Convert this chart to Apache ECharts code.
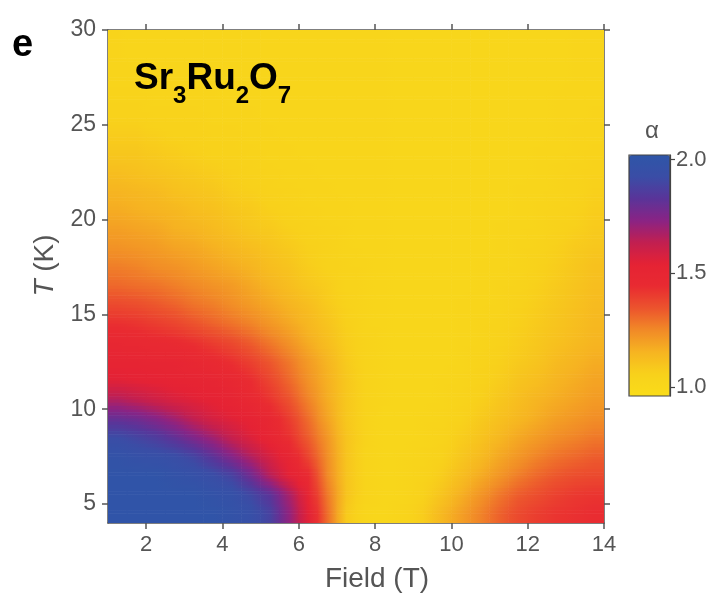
<!DOCTYPE html>
<html><head><meta charset="utf-8">
<script src="https://cdn.jsdelivr.net/npm/echarts@6/dist/echarts.min.js"></script>
<style>html,body{margin:0;padding:0;background:#fff}#c{width:721px;height:593px}</style>
</head><body><div id="c"></div>
<script>
// Cell centres (Field in T, temperature in K)
const fieldCenters = [1.25,1.75,2.25,2.75,3.25,3.75,4.25,4.75,5.25,5.75,6.25,6.75,7.25,7.75,8.25,8.75,9.25,9.75,10.25,10.75,11.25,11.75,12.25,12.75,13.25,13.75];
const tempCenters = [4.5,5.5,6.5,7.5,8.5,9.5,10.5,11.5,12.5,13.5,14.5,15.5,16.5,17.5,18.5,19.5,20.5,21.5,22.5,23.5,24.5,25.5,26.5,27.5,28.5,29.5];
// alpha values, one row per temperature (bottom to top)
const alphaRows = [
 [2.0,2.0,2.0,2.0,2.0,2.0,1.98,1.95,1.88,1.72,1.55,1.3,1.08,1.02,1.01,1.03,1.07,1.14,1.2,1.26,1.32,1.37,1.4,1.42,1.43,1.44],
 [2.0,2.0,2.0,2.0,2.0,1.98,1.96,1.9,1.82,1.68,1.5,1.28,1.1,1.03,1.01,1.02,1.05,1.1,1.16,1.22,1.28,1.33,1.36,1.39,1.41,1.42],
 [2.0,2.0,2.0,1.98,1.96,1.93,1.88,1.78,1.65,1.54,1.45,1.25,1.1,1.03,1.01,1.02,1.04,1.07,1.12,1.17,1.22,1.27,1.31,1.34,1.36,1.37],
 [1.98,1.96,1.95,1.93,1.89,1.82,1.74,1.66,1.58,1.5,1.38,1.24,1.1,1.03,1.01,1.02,1.03,1.05,1.09,1.13,1.18,1.22,1.26,1.29,1.31,1.33],
 [1.92,1.89,1.86,1.81,1.75,1.69,1.62,1.56,1.5,1.43,1.33,1.22,1.1,1.04,1.01,1.01,1.02,1.04,1.07,1.1,1.14,1.18,1.21,1.24,1.26,1.28],
 [1.8,1.78,1.74,1.69,1.63,1.58,1.55,1.52,1.48,1.4,1.3,1.19,1.09,1.04,1.01,1.01,1.02,1.03,1.05,1.08,1.11,1.14,1.17,1.2,1.22,1.24],
 [1.66,1.63,1.6,1.57,1.55,1.53,1.51,1.47,1.42,1.35,1.26,1.17,1.09,1.04,1.02,1.01,1.01,1.02,1.04,1.06,1.09,1.12,1.15,1.17,1.19,1.21],
 [1.55,1.54,1.53,1.52,1.51,1.5,1.48,1.44,1.38,1.31,1.23,1.16,1.09,1.04,1.02,1.01,1.01,1.02,1.03,1.05,1.07,1.1,1.12,1.15,1.17,1.19],
 [1.51,1.51,1.5,1.5,1.48,1.46,1.43,1.39,1.34,1.28,1.21,1.15,1.08,1.04,1.02,1.01,1.01,1.01,1.02,1.04,1.06,1.08,1.1,1.13,1.15,1.17],
 [1.48,1.47,1.46,1.45,1.43,1.4,1.37,1.33,1.28,1.23,1.17,1.12,1.07,1.04,1.02,1.01,1.01,1.01,1.02,1.03,1.05,1.07,1.09,1.11,1.13,1.15],
 [1.43,1.42,1.4,1.38,1.35,1.32,1.29,1.26,1.22,1.18,1.14,1.1,1.06,1.03,1.02,1.01,1.01,1.01,1.02,1.03,1.04,1.06,1.08,1.1,1.12,1.14],
 [1.37,1.36,1.34,1.32,1.29,1.27,1.24,1.21,1.18,1.15,1.12,1.08,1.05,1.03,1.02,1.01,1.01,1.01,1.02,1.02,1.03,1.05,1.07,1.09,1.11,1.13],
 [1.31,1.3,1.29,1.27,1.25,1.23,1.21,1.18,1.15,1.12,1.09,1.07,1.04,1.03,1.02,1.01,1.01,1.01,1.01,1.02,1.03,1.04,1.06,1.08,1.1,1.12],
 [1.27,1.26,1.24,1.23,1.21,1.19,1.17,1.15,1.12,1.1,1.07,1.05,1.04,1.03,1.02,1.01,1.01,1.01,1.01,1.02,1.02,1.03,1.05,1.07,1.09,1.11],
 [1.23,1.22,1.21,1.19,1.18,1.16,1.14,1.12,1.1,1.08,1.06,1.05,1.03,1.02,1.02,1.01,1.01,1.01,1.01,1.01,1.02,1.03,1.04,1.06,1.08,1.09],
 [1.2,1.19,1.18,1.16,1.15,1.13,1.11,1.09,1.08,1.06,1.05,1.04,1.03,1.02,1.02,1.01,1.01,1.01,1.01,1.01,1.02,1.02,1.03,1.05,1.06,1.08],
 [1.17,1.16,1.15,1.14,1.12,1.11,1.09,1.08,1.06,1.05,1.04,1.03,1.03,1.02,1.02,1.01,1.01,1.01,1.01,1.01,1.01,1.02,1.03,1.04,1.05,1.07],
 [1.15,1.14,1.13,1.11,1.1,1.09,1.07,1.06,1.05,1.04,1.03,1.03,1.02,1.02,1.02,1.01,1.01,1.01,1.01,1.01,1.01,1.02,1.02,1.03,1.04,1.06],
 [1.12,1.11,1.1,1.09,1.08,1.07,1.06,1.05,1.04,1.03,1.03,1.02,1.02,1.02,1.02,1.01,1.01,1.01,1.01,1.01,1.01,1.01,1.02,1.03,1.04,1.05],
 [1.09,1.09,1.08,1.07,1.06,1.05,1.05,1.04,1.03,1.03,1.02,1.02,1.02,1.02,1.02,1.01,1.01,1.01,1.01,1.01,1.01,1.01,1.02,1.02,1.03,1.04],
 [1.07,1.07,1.06,1.05,1.05,1.04,1.04,1.03,1.03,1.02,1.02,1.02,1.02,1.02,1.02,1.01,1.01,1.01,1.01,1.01,1.01,1.01,1.01,1.02,1.03,1.03],
 [1.05,1.05,1.04,1.04,1.04,1.03,1.03,1.03,1.02,1.02,1.02,1.02,1.02,1.02,1.02,1.01,1.01,1.01,1.01,1.01,1.01,1.01,1.01,1.02,1.02,1.03],
 [1.04,1.04,1.03,1.03,1.03,1.03,1.02,1.02,1.02,1.02,1.02,1.02,1.02,1.02,1.02,1.01,1.01,1.01,1.01,1.01,1.01,1.01,1.01,1.02,1.02,1.02],
 [1.03,1.03,1.03,1.02,1.02,1.02,1.02,1.02,1.02,1.02,1.02,1.02,1.02,1.02,1.02,1.01,1.01,1.01,1.01,1.01,1.01,1.01,1.01,1.01,1.02,1.02],
 [1.03,1.02,1.02,1.02,1.02,1.02,1.02,1.02,1.02,1.02,1.02,1.02,1.02,1.02,1.02,1.01,1.01,1.01,1.01,1.01,1.01,1.01,1.01,1.01,1.02,1.02],
 [1.03,1.02,1.02,1.02,1.02,1.02,1.02,1.02,1.02,1.02,1.02,1.02,1.02,1.02,1.02,1.01,1.01,1.01,1.01,1.01,1.01,1.01,1.01,1.01,1.02,1.02]
];
const fieldTicks = [2,4,6,8,10,12,14];
const tempTicks = [5,10,15,20,25,30];
const alphaTicks = [1.0,1.5,2.0];
const alphaColors = ['#f9dc1a','#f8d11b','#f6b421','#f18a27','#ec542d','#e92b31','#e52234','#c21f50','#8a2384','#5a3499','#3a4da6','#2e56a8'];

// colour-bar extent (the colour bar runs slightly past 1.0 and 2.0)
const CB_MIN = 0.96, CB_MAX = 2.02;
const nC = fieldCenters.length, nR = tempCenters.length;
const halfW = (fieldCenters[1] - fieldCenters[0]) / 2;
const halfH = (tempCenters[1] - tempCenters[0]) / 2;

const data = [];
tempCenters.forEach((t, i) => fieldCenters.forEach((f, j) => data.push([f, t, alphaRows[i][j]])));

// smooth shading between the read grid values (rendering only)
function shadeAt(F, T) {
  let u = (F - fieldCenters[0]) / (2 * halfW);
  let v = (T - tempCenters[0]) / (2 * halfH);
  u = Math.max(0, Math.min(nC - 1, u));
  v = Math.max(0, Math.min(nR - 1, v));
  const j0 = Math.min(Math.floor(u), nC - 2), i0 = Math.min(Math.floor(v), nR - 2);
  const fu = u - j0, fv = v - i0;
  const a = alphaRows[i0][j0], b = alphaRows[i0][j0 + 1], c = alphaRows[i0 + 1][j0], d = alphaRows[i0 + 1][j0 + 1];
  return (a * (1 - fu) + b * fu) * (1 - fv) + (c * (1 - fu) + d * fu) * fv;
}
function colorOf(a) {
  const n = Math.max(0, Math.min(1, (a - CB_MIN) / (CB_MAX - CB_MIN)));
  return echarts.color.lerp(n, alphaColors);
}

const FONT = "'Liberation Sans', Arial, sans-serif";
const AX = '#555';
const lab = {fontFamily: FONT, fontSize: 22, color: AX};
const line = {show: true, onZero: false, lineStyle: {color: AX, width: 1.5}};
const STRIPS = 6;

const chart = echarts.init(document.getElementById('c'), null, {renderer: 'canvas'});
chart.setOption({
  animation: false,
  backgroundColor: '#fff',
  grid: [
    {left: 108, top: 30, width: 496, height: 493, show: false, outerBoundsMode: 'none', containLabel: false},
    {left: 629, top: 155, width: 41, height: 241, show: true, borderColor: '#444', borderWidth: 1.2,
     backgroundColor: 'transparent', z: 10, outerBoundsMode: 'none', containLabel: false}
  ],
  xAxis: [
    {gridIndex: 0, type: 'value', min: 1, max: 14, position: 'bottom',
     axisLine: line, splitLine: {show: false},
     axisTick: {show: true, inside: false, customValues: fieldTicks, length: 6, lineStyle: {color: AX, width: 1.5}},
     axisLabel: Object.assign({customValues: fieldTicks, margin: 11}, lab),
     name: 'Field (T)', nameLocation: 'middle', nameGap: 42,
     nameTextStyle: {fontFamily: FONT, fontSize: 28, color: AX, padding: [0, 0, 0, 42]}},
    {gridIndex: 0, type: 'value', min: 1, max: 14, position: 'top',
     axisLine: line, splitLine: {show: false},
     axisTick: {show: true, inside: false, customValues: fieldTicks, length: 6, lineStyle: {color: AX, width: 1.5}},
     axisLabel: {show: false}},
    {gridIndex: 1, type: 'value', min: 1, max: 2, show: false, axisLine: {show: false, onZero: false}}
  ],
  yAxis: [
    {gridIndex: 0, type: 'value', min: 4, max: 30, position: 'left',
     axisLine: line, splitLine: {show: false},
     axisTick: {show: true, inside: false, customValues: tempTicks, length: 6, lineStyle: {color: AX, width: 1.5}},
     axisLabel: Object.assign({customValues: tempTicks, margin: 12}, lab, {fontSize: 23}),
     name: '{i|T} (K)', nameLocation: 'middle', nameGap: 48, nameRotate: 90,
     nameTextStyle: {fontFamily: FONT, fontSize: 28, color: AX, padding: [0, 0, 0, 22],
       rich: {i: {fontFamily: FONT, fontSize: 28, color: AX, fontStyle: 'italic'}}}},
    {gridIndex: 0, type: 'value', min: 4, max: 30, position: 'right',
     axisLine: line, splitLine: {show: false},
     axisTick: {show: true, inside: false, customValues: tempTicks, length: 6, lineStyle: {color: AX, width: 1.5}},
     axisLabel: {show: false}},
    {gridIndex: 1, type: 'value', min: CB_MIN, max: CB_MAX, position: 'right', z: 10,
     axisLine: {show: true, onZero: false, lineStyle: {color: '#444', width: 1.2}}, splitLine: {show: false},
     axisTick: {show: true, inside: false, customValues: alphaTicks, length: 5, lineStyle: {color: '#444', width: 1.2}},
     axisLabel: Object.assign({customValues: alphaTicks, margin: 6, formatter: v => v.toFixed(1)}, lab)}
  ],
  visualMap: {
    type: 'continuous', min: CB_MIN, max: CB_MAX, seriesIndex: 0, dimension: 2,
    orient: 'vertical', left: 629, top: 155, itemWidth: 41, itemHeight: 241,
    calculable: false, padding: 0, text: null, showLabel: false, realtime: false,
    inRange: {color: alphaColors}
  },
  series: [{
    type: 'custom', xAxisIndex: 0, yAxisIndex: 0, clip: true,
    encode: {x: 0, y: 1},
    data: data,
    renderItem: function (params, api) {
      const f = api.value(0), t = api.value(1);
      const xL = f - halfW, xR = f + halfW;
      const step = 2 * halfH / STRIPS;
      const children = [];
      for (let s = 0; s < STRIPS; s++) {
        const tTop = t + halfH - s * step, tBot = tTop - step, tMid = (tTop + tBot) / 2;
        const p0 = api.coord([xL, tTop]), p1 = api.coord([xR, tBot]);
        children.push({
          type: 'rect',
          shape: {x: p0[0] - 0.3, y: p0[1] - 0.3, width: p1[0] - p0[0] + 0.6, height: p1[1] - p0[1] + 0.6},
          style: {fill: new echarts.graphic.LinearGradient(0, 0, 1, 0, [
            {offset: 0, color: colorOf(shadeAt(xL, tMid))},
            {offset: 0.5, color: colorOf(shadeAt(f, tMid))},
            {offset: 1, color: colorOf(shadeAt(xR, tMid))}
          ])}
        });
      }
      return {type: 'group', children: children};
    }
  }],
  graphic: [
    {type: 'text', left: 12, top: 27, z: 100, style: {text: 'e', font: "bold 38px " + FONT, fill: '#000'}},
    {type: 'text', left: 134, top: 60, z: 100, style: {
      text: '{b|Sr}{s|3}{b|Ru}{s|2}{b|O}{s|7}',
      rich: {
        b: {fontFamily: FONT, fontWeight: 'bold', fontSize: 37, fill: '#000', verticalAlign: 'bottom', padding: [0, 0, 11, 0]},
        s: {fontFamily: FONT, fontWeight: 'bold', fontSize: 24, fill: '#000', verticalAlign: 'bottom'}
      }}},
    {type: 'text', x: 652, y: 131, z: 100, style: {text: 'α', font: "24px " + FONT, fill: AX, align: 'center', verticalAlign: 'middle'}}
  ]
});
</script></body></html>
